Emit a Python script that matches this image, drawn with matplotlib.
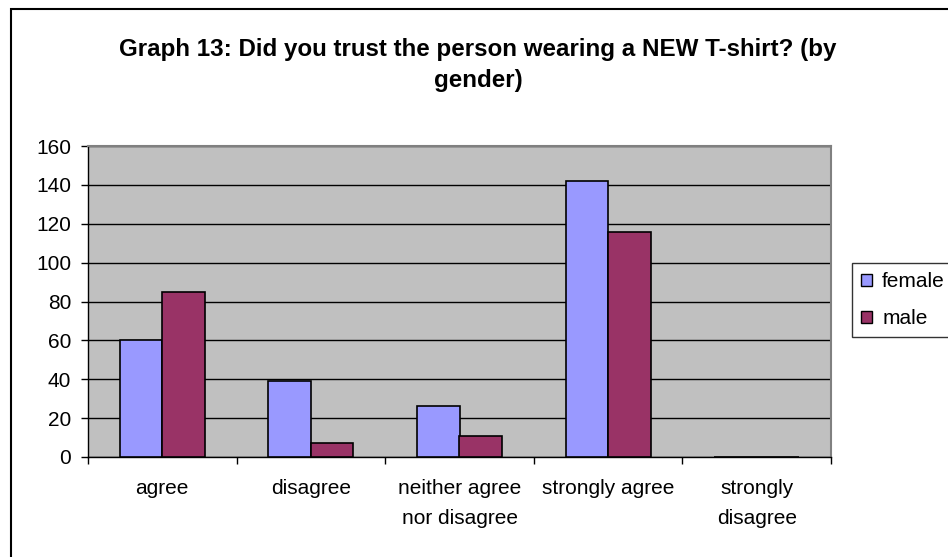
import matplotlib
matplotlib.use("Agg")
import matplotlib.pyplot as plt
from matplotlib.patches import Rectangle, Patch
import numpy as np

categories = ["agree", "disagree", "neither agree\nnor disagree", "strongly agree", "strongly\ndisagree"]
female = [60, 39, 26, 142, 0]
male = [85, 7, 11, 116, 0]
series_names = ["female", "male"]
yticks = [0, 20, 40, 60, 80, 100, 120, 140, 160]
title = "Graph 13: Did you trust the person wearing a NEW T-shirt? (by\ngender)"

plt.rcParams['font.family'] = ['Liberation Sans', 'DejaVu Sans']

W, H = 948, 557
fig = plt.figure(figsize=(W / 100, H / 100), dpi=100)
fig.patch.set_facecolor("white")

# outer chart border
fig.patches.append(Rectangle((11 / W, -0.1), 1.2, 1.1 - 9 / H, transform=fig.transFigure,
                             fill=False, edgecolor="black", linewidth=1.5, zorder=0))

left, right, top, bottom = 88, 831, 146, 457
ax = fig.add_axes([left / W, 1 - bottom / H, (right - left) / W, (bottom - top) / H])
ax.set_facecolor("#C0C0C0")

x = np.arange(len(categories))
w = 0.286
ax.bar(x - w / 2, female, w, color="#9999FF", edgecolor="black", linewidth=1.2, zorder=3)
ax.bar(x + w / 2, male, w, color="#993366", edgecolor="black", linewidth=1.2, zorder=3)

ax.set_xlim(-0.5, len(categories) - 0.5)
ax.set_ylim(0, 160)
ax.set_yticks(yticks)
ax.yaxis.grid(True, color="black", linewidth=1.0, zorder=1)
ax.set_axisbelow(True)
ax.tick_params(axis="y", direction="out", length=5, width=1, labelsize=15, pad=7, colors="black")

ax.set_xticks(x)
ax.set_xticklabels(categories, fontsize=15, linespacing=1.72)
ax.tick_params(axis="x", length=0, pad=16)
ax.set_xticks(np.arange(-0.5, len(categories)), minor=True)
ax.tick_params(axis="x", which="minor", direction="out", length=5, width=1, color="black")
for lab in ax.get_xticklabels():
    lab.set_verticalalignment("top")

for s in ["top", "right"]:
    ax.spines[s].set_color("#808080")
    ax.spines[s].set_linewidth(1.5)
for s in ["left", "bottom"]:
    ax.spines[s].set_color("black")
    ax.spines[s].set_linewidth(1.0)

fig.text(478 / W, 1 - 65 / H, title, ha="center", va="center", fontsize=17.4,
         fontweight="bold", linespacing=1.48)

handles = [Patch(facecolor="#9999FF", edgecolor="black"), Patch(facecolor="#993366", edgecolor="black")]
leg = fig.legend(handles, series_names, loc="upper left", bbox_to_anchor=(852 / W, 1 - 263 / H),
                 fontsize=15, frameon=True, fancybox=False, edgecolor="black",
                 handlelength=0.5, handleheight=0.5, handletextpad=0.5, labelspacing=0.85,
                 borderpad=0.45, borderaxespad=0)
leg.get_frame().set_linewidth(1.0)

fig.savefig("out.png", dpi=100)
